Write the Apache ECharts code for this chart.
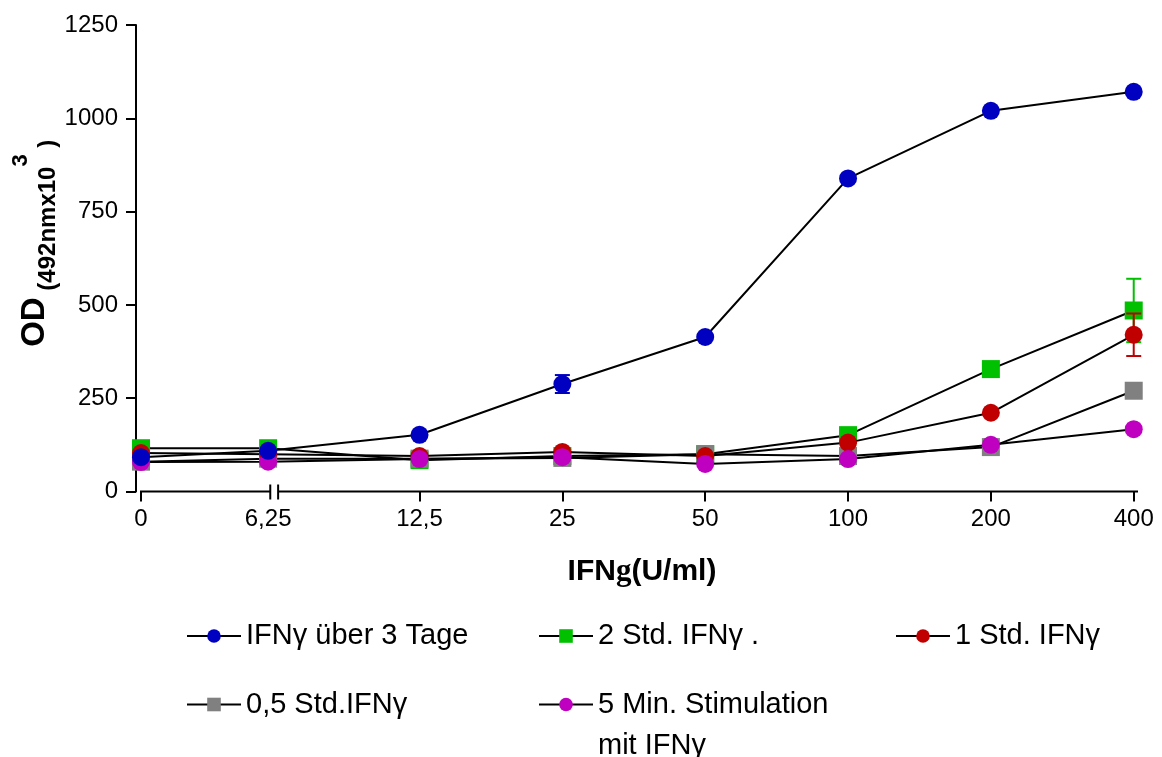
<!DOCTYPE html>
<html><head><meta charset="utf-8">
<script src="https://cdn.jsdelivr.net/npm/echarts@6/dist/echarts.min.js"></script>
<style>html,body{margin:0;padding:0;background:#fff;}#c{width:1162px;height:757px;}</style>
</head><body><div id="c"></div>
<script>
// ---- data ----
const categories = ['0', '6,25', '12,5', '25', '50', '100', '200', '400'];
const xPositions = [0, 0.89, 1.95, 2.95, 3.95, 4.95, 5.95, 6.95];
const axisBreak = [0.905, 0.96];
const seriesNames = ['IFNγ über 3 Tage', '2 Std. IFNγ .', '1 Std. IFNγ', '0,5 Std.IFNγ', '5 Min. Stimulation\nmit IFNγ'];
const blueValues    = [92, 109, 152, 288, 414, 839, 1020, 1071];
const greenValues   = [116, 116, 84, 95, 100, 151, 328, 485];
const redValues     = [103, 100, 95, 106, 95, 131, 211, 420];
const grayValues    = [80, 88, 88, 90, 100, 95, 119, 270];
const magentaValues = [79, 80, 87, 92, 74, 87, 125, 167];
const blueErrors    = [0, 0, 0, 24, 0, 0, 0, 0];
const greenErrors   = [0, 0, 0, 0, 0, 0, 0, 85];
const redErrors     = [0, 0, 0, 0, 0, 0, 0, 57];
const yTickValues = [0, 250, 500, 750, 1000, 1250];

// ---- styles ----
const SANS = "'Liberation Sans', Arial, sans-serif";
const colors = ['#0000c0', '#00c000', '#c00000', '#808080', '#c000c0'];
const symbols = ['circle', 'rect', 'circle', 'rect', 'circle'];
const zOrder = [7, 3, 5, 4, 6];
const valueSets = [blueValues, greenValues, redValues, grayValues, magentaValues];
const errorSets = [blueErrors, greenErrors, redErrors, null, null];

const xMin = -0.035, xMax = 6.98;

function labelFor(v) {
  let best = 0, d = Infinity;
  xPositions.forEach((p, i) => { const dd = Math.abs(p - v); if (dd < d) { d = dd; best = i; } });
  return d < 0.01 ? categories[best] : '';
}

const series = [];
valueSets.forEach((vals, si) => {
  series.push({
    type: 'line',
    name: seriesNames[si],
    data: vals.map((v, i) => [xPositions[i], v]),
    symbol: symbols[si],
    symbolSize: 18,
    z: zOrder[si],
    itemStyle: { color: colors[si], opacity: 1 },
    lineStyle: { color: '#000', width: 2 },
    emphasis: { disabled: true },
    animation: false
  });
  const errs = errorSets[si];
  if (errs) {
    const color = colors[si];
    series.push({
      type: 'custom',
      z: zOrder[si],
      animation: false,
      silent: true,
      data: vals.map((v, i) => [xPositions[i], v, errs[i]]).filter(d => d[2] > 0),
      renderItem: function (params, api) {
        const x = api.value(0), y = api.value(1), e = api.value(2);
        const top = api.coord([x, y + e]);
        const bot = api.coord([x, y - e]);
        const hw = 7.5;
        const st = { stroke: color, lineWidth: 2 };
        return { type: 'group', children: [
          { type: 'line', shape: { x1: top[0], y1: top[1], x2: bot[0], y2: bot[1] }, style: st },
          { type: 'line', shape: { x1: top[0] - hw, y1: top[1], x2: top[0] + hw, y2: top[1] }, style: st },
          { type: 'line', shape: { x1: bot[0] - hw, y1: bot[1], x2: bot[0] + hw, y2: bot[1] }, style: st }
        ]};
      }
    });
  }
});

const legendPos = [
  { left: 186, top: 619 },
  { left: 538, top: 619 },
  { left: 895, top: 619 },
  { left: 186, top: 687.5 },
  { left: 538, top: 643 }
];
const legends = seriesNames.map((n, i) => ({
  data: [n],
  left: legendPos[i].left,
  top: legendPos[i].top,
  padding: 0,
  orient: 'horizontal',
  itemWidth: 54,
  itemHeight: 17,
  selectedMode: false,
  formatter: i === 4 ? (name => '\n' + name) : (name => name),
  textStyle: i === 4
    ? { fontFamily: SANS, fontSize: 29, color: '#000', lineHeight: 41 }
    : { fontFamily: SANS, fontSize: 29, color: '#000', lineHeight: 34 }
}));

const option = {
  backgroundColor: '#fff',
  animation: false,
  grid: { left: 136, top: 25, right: 24, bottom: 265.5, containLabel: false, outerBoundsMode: 'none' },
  legend: legends,
  xAxis: {
    type: 'value',
    min: xMin, max: xMax,
    axisLine: { show: false, onZero: false },
    splitLine: { show: false },
    axisTick: { show: true, length: 10, lineStyle: { color: '#000', width: 2 },
      customValues: xPositions.filter((p, i) => i !== 1) },
    axisLabel: { customValues: xPositions, formatter: labelFor, color: '#000',
      fontFamily: SANS, fontSize: 24, margin: 16 },
    name: '{a|IFN}{g|g}{a|(U/ml)}',
    nameLocation: 'middle',
    nameGap: 63,
    nameMoveOverlap: false,
    nameTextStyle: { padding: [0, 0, 0, 10], rich: {
      a: { fontFamily: SANS, fontSize: 30, fontWeight: 'bold', color: '#000', lineHeight: 34 },
      g: { fontFamily: "'Liberation Serif', 'DejaVu Serif', serif", fontSize: 31, fontWeight: 'bold', color: '#000', lineHeight: 34 }
    } }
  },
  yAxis: {
    type: 'value',
    min: 0, max: 1250, interval: 250,
    axisLine: { show: true, onZero: false, lineStyle: { color: '#000', width: 2 } },
    axisTick: { show: true, length: 10, lineStyle: { color: '#000', width: 2 } },
    splitLine: { show: false },
    axisLabel: { color: '#000', fontFamily: SANS, fontSize: 24, margin: 18,
      customValues: yTickValues, formatter: v => String(v) },
    name: '{od|OD}{sub| (492nmx10}{sup|3}{sub| )}',
    nameLocation: 'middle',
    nameRotate: 90,
    nameGap: 76,
    nameMoveOverlap: false,
    nameTextStyle: { padding: [0, 0, 0, 30], rich: {
      od: { fontFamily: SANS, fontSize: 33, fontWeight: 'bold', color: '#000', lineHeight: 50 },
      sub: { fontFamily: SANS, fontSize: 24, fontWeight: 'bold', color: '#000', lineHeight: 36, verticalAlign: 'bottom' },
      sup: { fontFamily: SANS, fontSize: 22, fontWeight: 'bold', color: '#000', lineHeight: 16, verticalAlign: 'top' }
    } }
  },
  series: series
};

const chart = echarts.init(document.getElementById('c'), null, { renderer: 'canvas' });
chart.setOption(option);

// x-axis line with break marks
const pStart = chart.convertToPixel({ gridIndex: 0 }, [0, 0]);
const pB1 = chart.convertToPixel({ gridIndex: 0 }, [axisBreak[0], 0]);
const pB2 = chart.convertToPixel({ gridIndex: 0 }, [axisBreak[1], 0]);
const pEnd = chart.convertToPixel({ gridIndex: 0 }, [xMax, 0]);
const ax = { stroke: '#000', lineWidth: 2 };
chart.setOption({ graphic: [
  { type: 'line', silent: true, z: 10, shape: { x1: pStart[0] - 1, y1: pStart[1], x2: pB1[0], y2: pB1[1] }, style: ax },
  { type: 'line', silent: true, z: 10, shape: { x1: pB2[0], y1: pB2[1], x2: pEnd[0], y2: pEnd[1] }, style: ax },
  { type: 'line', silent: true, z: 10, shape: { x1: pB1[0], y1: pB1[1] - 7, x2: pB1[0], y2: pB1[1] + 8 }, style: ax },
  { type: 'line', silent: true, z: 10, shape: { x1: pB2[0], y1: pB2[1] - 7, x2: pB2[0], y2: pB2[1] + 8 }, style: ax }
] });
</script>
</body></html>
